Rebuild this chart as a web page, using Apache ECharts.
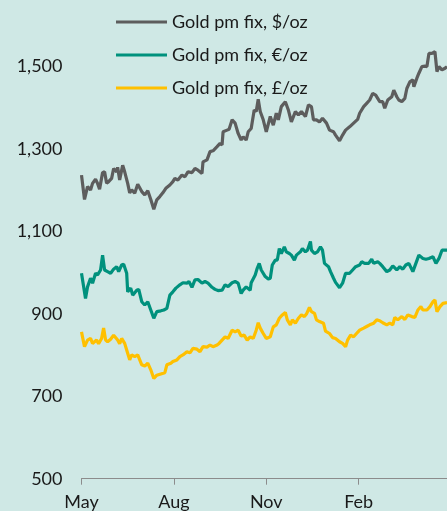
<!DOCTYPE html>
<html>
<head>
<meta charset="utf-8">
<script src="https://cdn.jsdelivr.net/npm/echarts@6/dist/echarts.min.js"></script>
<style>
  html, body { margin: 0; padding: 0; background: #cfe8e5; }
  #chart { width: 447px; height: 511px; }
</style>
</head>
<body>
<div id="chart"></div>
<script>
  // days counted from 1 May; each quarter tick is 92 days apart
  var tickDays = [0, 92, 184, 276];
  var tickLabels = ['May', 'Aug', 'Nov', 'Feb'];
  var seriesNames = ['Gold pm fix, $/oz', 'Gold pm fix, €/oz', 'Gold pm fix, £/oz'];

  var usdDays = [0,3,6,9,11,14,16,18,21,23,25,27,30,32,35,36,38,40,41,43,46,48,50,53,56,60,63,66,69,72,75,78,81,84,88,91,93,96,100,103,106,110,113,116,120,121,125,128,131,135,138,140,141,145,147,150,153,156,159,161,164,166,169,172,174,176,178,181,184,188,191,194,196,199,203,206,209,213,216,219,223,226,229,231,234,237,240,244,247,251,253,257,260,263,267,271,275,277,281,284,287,290,293,297,300,302,305,309,311,314,316,319,322,324,327,330,331,334,336,339,342,344,346,349,352,354,356,359,362,364];
  var usdVals = [1236,1177,1208,1200,1216,1226,1216,1202,1242,1244,1216,1220,1228,1252,1244,1255,1224,1248,1260,1244,1216,1193,1200,1192,1214,1196,1188,1198,1177,1153,1176,1184,1193,1204,1212,1220,1228,1224,1236,1232,1244,1242,1252,1248,1240,1268,1273,1293,1295,1305,1313,1309,1341,1345,1347,1370,1362,1337,1321,1329,1321,1341,1349,1394,1390,1420,1390,1370,1341,1378,1357,1386,1370,1402,1414,1394,1365,1390,1382,1390,1378,1406,1402,1370,1370,1365,1374,1362,1345,1341,1333,1319,1333,1345,1353,1362,1371,1386,1402,1410,1418,1434,1430,1414,1414,1398,1418,1426,1442,1426,1418,1414,1422,1446,1462,1467,1450,1471,1483,1499,1500,1499,1531,1531,1535,1487,1499,1491,1495,1499];

  var eurDays = [0,4,6,9,11,14,16,19,21,23,26,29,32,35,37,40,42,45,46,49,51,55,57,60,63,66,69,72,75,79,82,85,88,91,94,98,101,105,107,110,113,116,120,123,126,130,133,136,140,143,146,150,153,156,159,161,164,168,169,173,175,177,179,183,186,188,190,193,195,197,199,202,204,207,209,212,214,218,220,223,225,228,229,232,235,238,240,242,246,248,251,253,257,260,263,267,270,273,277,279,282,286,289,291,295,297,300,304,307,310,314,317,320,323,326,330,333,336,340,343,346,350,353,356,359,362,364];
  var eurVals = [998,937,965,986,974,998,994,1006,1042,1006,1002,998,1008,1014,1002,1018,1020,998,953,962,945,957,959,929,921,929,909,889,905,907,909,913,945,953,962,970,975,974,978,964,982,983,974,978,974,964,959,956,957,970,966,975,978,974,949,957,965,957,975,994,1010,1022,1006,990,984,986,1018,1030,1030,1058,1046,1062,1050,1046,1042,1030,1042,1050,1058,1050,1054,1075,1054,1046,1050,1062,1054,1022,1014,1002,986,976,963,974,998,998,1006,1014,1018,1026,1022,1022,1032,1022,1026,1022,1014,1002,1006,1016,1006,1014,1008,1018,1022,1002,1022,1042,1034,1032,1034,1038,1022,1034,1054,1054,1054];

  var gbpDays = [0,3,6,9,11,15,17,20,22,24,26,29,32,36,38,40,43,46,48,50,53,56,60,63,66,69,72,75,79,83,85,89,91,95,98,101,105,108,111,115,118,121,125,128,131,135,137,140,143,146,150,153,156,159,162,165,168,171,174,176,178,181,184,188,191,194,197,200,203,205,208,210,213,216,219,222,224,227,229,232,234,237,241,243,247,250,253,257,260,263,265,268,271,275,277,281,284,287,291,294,297,300,304,307,310,312,315,319,322,325,329,332,335,338,340,344,347,350,352,354,357,360,364];
  var gbpVals = [856,820,836,840,828,836,827,840,865,836,832,838,848,836,827,840,828,804,788,800,796,800,776,773,780,764,743,751,754,757,776,780,784,788,796,800,808,805,816,814,808,820,819,824,820,824,828,836,844,840,860,856,860,846,848,836,844,840,860,878,865,852,840,844,868,873,889,897,903,885,873,885,877,889,897,893,899,915,905,901,885,881,877,858,852,842,840,832,828,820,836,848,844,855,860,865,869,873,877,885,883,878,873,877,873,891,885,893,886,897,893,891,909,917,909,909,917,929,933,905,917,925,927];

  function pairs(days, vals) {
    return days.map(function (d, i) { return [d, vals[i]]; });
  }

  var font = 'Lato, "Open Sans", sans-serif';
  var myChart = echarts.init(document.getElementById('chart'), null, { renderer: 'canvas' });
  var option = {
    backgroundColor: '#cfe8e5',
    animation: false,
    color: ['#5d5d5d', '#00917d', '#ffc000'],
    legend: {
      orient: 'vertical',
      left: 116,
      top: 12,
      padding: 0,
      icon: 'rect',
      itemWidth: 51,
      itemHeight: 3,
      itemGap: 13,
      textStyle: { fontFamily: font, fontSize: 18, color: '#1a1a1a', lineHeight: 20 },
      data: seriesNames
    },
    grid: { left: 81.5, right: 0, top: -16.3, bottom: 32.3, outerBoundsMode: 'none' },
    xAxis: {
      type: 'value',
      min: 0,
      max: 364,
      splitLine: { show: false },
      axisLine: { lineStyle: { color: '#8c8c8c', width: 1 } },
      axisTick: { show: true, length: 6, customValues: tickDays, lineStyle: { color: '#8c8c8c', width: 1 } },
      axisLabel: {
        customValues: tickDays,
        margin: 14,
        fontFamily: font,
        fontSize: 18,
        color: '#1a1a1a',
        formatter: function (v) {
          var i = tickDays.indexOf(v);
          return i >= 0 ? tickLabels[i] : '';
        }
      }
    },
    yAxis: {
      type: 'value',
      min: 500,
      max: 1700,
      interval: 200,
      splitLine: { show: false },
      axisLine: { show: false },
      axisTick: { show: false },
      axisLabel: {
        margin: 19,
        fontFamily: font,
        fontSize: 18,
        color: '#1a1a1a',
        formatter: function (v) { return v.toLocaleString('en-US'); }
      }
    },
    series: [
      { name: seriesNames[0], type: 'line', showSymbol: false, lineStyle: { width: 3.2 }, data: pairs(usdDays, usdVals) },
      { name: seriesNames[1], type: 'line', showSymbol: false, lineStyle: { width: 3.2 }, data: pairs(eurDays, eurVals) },
      { name: seriesNames[2], type: 'line', showSymbol: false, lineStyle: { width: 3.2 }, data: pairs(gbpDays, gbpVals) }
    ]
  };
  myChart.setOption(option);
</script>
</body>
</html>
